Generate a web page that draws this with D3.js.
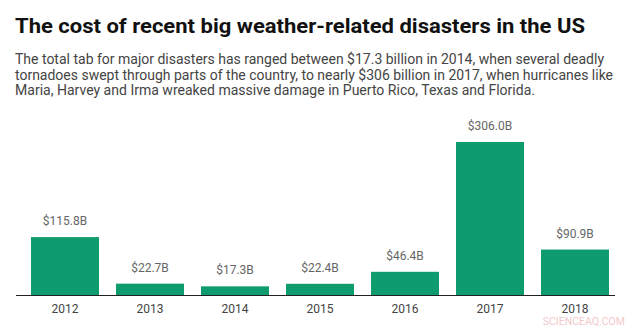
<!DOCTYPE html>
<html>
<head>
<meta charset="utf-8">
<script src="https://cdn.jsdelivr.net/npm/d3@7"></script>
<style>
  body { margin: 0; background: #fff; }
  svg { display: block; font-family: Roboto, "Noto Sans", sans-serif; }
</style>
</head>
<body>
<div id="chart"></div>
<script>
// data
var years = ["2012", "2013", "2014", "2015", "2016", "2017", "2018"];
var costs = [115.8, 22.7, 17.3, 22.4, 46.4, 306.0, 90.9];
var labels = ["$115.8B", "$22.7B", "$17.3B", "$22.4B", "$46.4B", "$306.0B", "$90.9B"];

var title = "The cost of recent big weather-related disasters in the US";
var subLines = [
    "The total tab for major disasters has ranged between $17.3 billion in 2014, when several deadly",
    "tornadoes swept through parts of the country, to nearly $306 billion in 2017, when hurricanes like",
    "Maria, Harvey and Irma wreaked massive damage in Puerto Rico, Texas and Florida."
];
var subEnds = [604, 613, 535];

var W = 641, H = 327;
var base = 295;

var svg = d3.select("#chart").append("svg")
    .attr("width", W)
    .attr("height", H);

svg.append("text")
    .attr("x", 15).attr("y", 33)
    .attr("font-size", 21).attr("font-weight", 700)
    .attr("fill", "#111")
    .attr("textLength", 570).attr("lengthAdjust", "spacingAndGlyphs")
    .text(title);

svg.selectAll(".sub")
    .data(subLines)
    .enter().append("text")
    .attr("class", "sub")
    .attr("x", 15)
    .attr("y", function (d, i) { return 64 + i * 15.5; })
    .attr("font-size", 14)
    .attr("fill", "#444")
    .attr("textLength", function (d, i) { return subEnds[i] - 15; })
    .attr("lengthAdjust", "spacingAndGlyphs")
    .text(function (d) { return d; });

var x = d3.scaleBand()
    .domain(years)
    .range([22.5, 617.5])
    .paddingInner(0.2)
    .paddingOuter(0.1);

var y = d3.scaleLinear()
    .domain([0, 306])
    .range([base, base - 153]);

svg.selectAll(".bar")
    .data(costs)
    .enter().append("rect")
    .attr("class", "bar")
    .attr("x", function (d, i) { return x(years[i]); })
    .attr("y", function (d) { return y(d); })
    .attr("width", x.bandwidth())
    .attr("height", function (d) { return base - y(d); })
    .attr("fill", "#0e9c6e");

svg.selectAll(".val")
    .data(costs)
    .enter().append("text")
    .attr("class", "val")
    .attr("x", function (d, i) { return x(years[i]) + x.bandwidth() / 2; })
    .attr("y", function (d) { return y(d) - 12; })
    .attr("text-anchor", "middle")
    .attr("font-size", 12)
    .attr("fill", "#666")
    .text(function (d, i) { return labels[i]; });

var axis = svg.append("g")
    .attr("transform", "translate(0," + base + ")")
    .call(d3.axisBottom(x).tickSize(0).tickPadding(9));
axis.select(".domain").remove();
axis.selectAll("text")
    .attr("font-size", 12)
    .attr("font-family", "Roboto, sans-serif")
    .attr("fill", "#444");

svg.append("line")
    .attr("x1", 16).attr("x2", 615)
    .attr("y1", base + 0.5).attr("y2", base + 0.5)
    .attr("stroke", "#222").attr("stroke-width", 1);

svg.append("text")
    .attr("x", 625).attr("y", 325)
    .attr("text-anchor", "end")
    .attr("font-size", 10.5)
    .attr("fill", "#f3c9cc")
    .text("SCIENCEAQ.COM");
</script>
</body>
</html>
